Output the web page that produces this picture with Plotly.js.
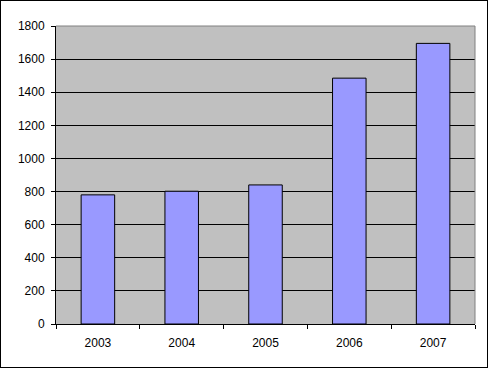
<!DOCTYPE html>
<html>
<head>
<meta charset="utf-8">
<script src="https://cdn.plot.ly/plotly-3.0.1.min.js"></script>
<style>
html,body{margin:0;padding:0;background:#fff;}
#wrap{position:relative;width:490px;height:370px;}
#chart{position:absolute;left:0;top:0;width:490px;height:370px;}
#frame{position:absolute;left:0;top:0;width:486px;height:366px;border:1px solid #000;pointer-events:none;}
</style>
</head>
<body>
<div id="wrap"><div id="chart"></div><div id="frame"></div></div>
<script>
const years = ['2003', '2004', '2005', '2006', '2007'];
const values = [780, 802, 840, 1485, 1695];
const yTicks = [0, 200, 400, 600, 800, 1000, 1200, 1400, 1600, 1800];

const trace = {
  type: 'bar',
  x: years,
  y: values,
  width: 0.4,
  marker: {color: '#9999FF', line: {color: '#000000', width: 1}},
  hoverinfo: 'none'
};

const layout = {
  width: 490, height: 370,
  margin: {l: 55.5, r: 15, t: 26, b: 45.7, pad: 0},
  paper_bgcolor: '#FFFFFF',
  plot_bgcolor: '#C0C0C0',
  showlegend: false,
  font: {family: 'Arial, "Liberation Sans", sans-serif', size: 12, color: '#000000'},
  bargap: 0.6,
  xaxis: {
    type: 'category',
    showgrid: false,
    showline: true, linecolor: '#000000', linewidth: 1,
    ticks: 'outside', tickson: 'boundaries', ticklen: 4, tickcolor: '#000000', tickwidth: 1,
    ticklabelstandoff: 8,
    tickfont: {size: 12, color: '#000000'},
    fixedrange: true
  },
  yaxis: {
    range: [0, 1800],
    tickvals: yTicks,
    ticktext: yTicks.map(String),
    showgrid: true, gridcolor: '#000000', gridwidth: 1,
    zeroline: false,
    showline: true, linecolor: '#000000', linewidth: 1,
    ticks: 'outside', ticklen: 4, tickcolor: '#000000', tickwidth: 1,
    ticklabelstandoff: 4,
    tickfont: {size: 12, color: '#000000'},
    fixedrange: true
  },
  shapes: [
    {type: 'line', xref: 'paper', yref: 'paper', x0: 0, x1: 1, y0: 1, y1: 1, line: {color: '#808080', width: 1}, layer: 'above'},
    {type: 'line', xref: 'paper', yref: 'paper', x0: 1, x1: 1, y0: 0, y1: 1, line: {color: '#808080', width: 1}, layer: 'above'}
  ]
};

Plotly.newPlot('chart', [trace], layout, {staticPlot: true, displayModeBar: false});
</script>
</body>
</html>
